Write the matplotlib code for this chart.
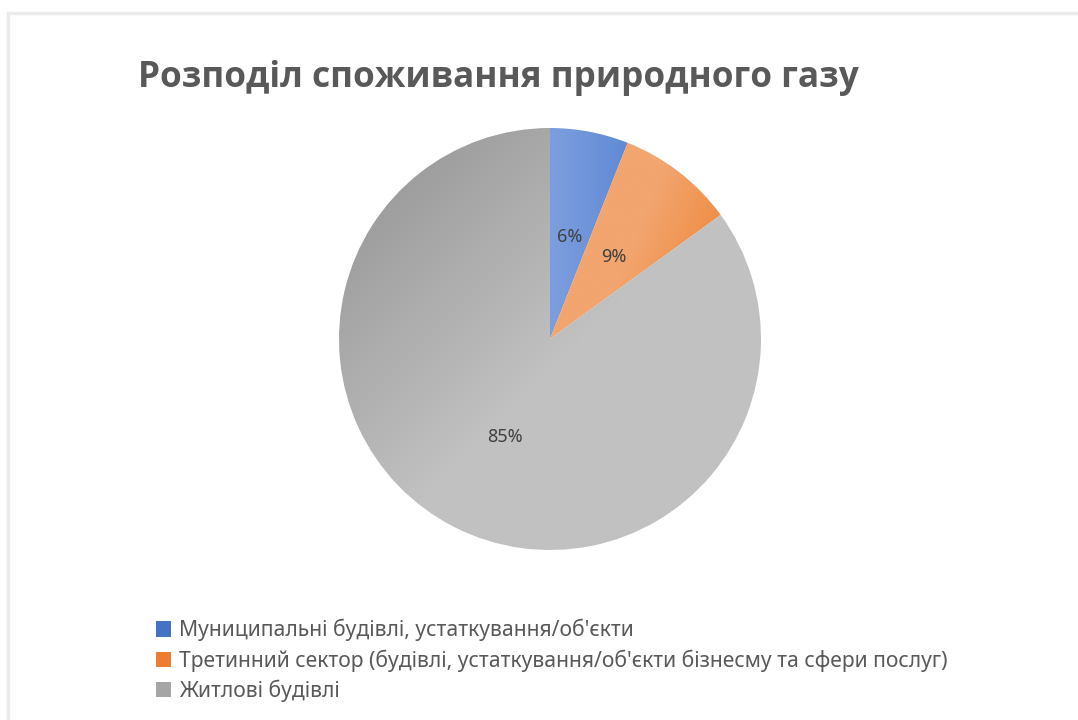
import numpy as np
import matplotlib
matplotlib.use("Agg")
import matplotlib.pyplot as plt
from matplotlib.patches import Patch, Rectangle
from matplotlib.colors import to_rgb

plt.rcParams['font.family'] = ['Noto Sans', 'DejaVu Sans']

title = "Розподіл споживання природного газу"
labels = [
    "Муниципальні будівлі, устаткування/об'єкти",
    "Третинний сектор (будівлі, устаткування/об'єкти бізнесму та сфери послуг)",
    "Житлові будівлі",
]
shares = [6, 9, 85]
base_colors = ["#4472C4", "#ED7D31", "#A5A5A5"]
# light / dark ends of each slice gradient
grad_colors = [("#7b9ddd", "#5f89d6"), ("#f2a56f", "#ef8d44"), ("#989898", "#c1c1c1")]

fig = plt.figure(figsize=(10.78, 7.2), dpi=100)

# chart area border (only top and left edges are visible)
fig.patches.append(Rectangle((8 / 1078, -0.1), 1.2, 1 - 13 / 720 + 0.1,
                             transform=fig.transFigure, fill=False,
                             edgecolor="#ebebeb", linewidth=2.5))

ax = fig.add_axes([(550 - 211) / 1078, (720 - 339 - 211) / 720, 422 / 1078, 422 / 720])
wedges, _, autotexts = ax.pie(shares, startangle=90, counterclock=False, radius=1,
                              autopct="%1.0f%%", pctdistance=0.49,
                              wedgeprops=dict(facecolor="none", edgecolor="none"),
                              textprops=dict(color="#404040", fontsize=13))

n = 400
xs = np.linspace(-1, 1, n)
X, Y = np.meshgrid(xs, xs)
ramps = [
    np.clip((X - 0.03) / 0.35, 0, 1),
    np.clip(((X - 0.45) + (0.6 - Y) * 0.4) / 0.4, 0, 1),
    np.clip(((X - Y) / np.sqrt(2) + 1.2) / 1.3, 0, 1),
]
for w, t, (c0, c1) in zip(wedges, ramps, grad_colors):
    a, b = np.array(to_rgb(c0)), np.array(to_rgb(c1))
    img = a[None, None, :] * (1 - t[..., None]) + b[None, None, :] * t[..., None]
    im = ax.imshow(img, extent=(-1, 1, -1, 1), origin="lower", zorder=0,
                   interpolation="bilinear")
    im.set_clip_path(w)

# place the large slice label a little further round
ang = np.deg2rad(-115)
autotexts[2].set_position((0.51 * np.cos(ang), 0.51 * np.sin(ang)))
for t in autotexts:
    t.set_zorder(5)

ax.set_xlim(-1, 1)
ax.set_ylim(-1, 1)
ax.set_aspect("equal")
ax.axis("off")

fig.text(138 / 1078, 1 - 78 / 720, title, fontsize=25.3, fontweight="bold",
         family=["Open Sans", "DejaVu Sans"],
         color="#595959", ha="left", va="center")

handles = [Patch(facecolor=c, edgecolor="none") for c in base_colors]
fig.legend(handles, labels, loc="upper left", bbox_to_anchor=(156 / 1078, 1 - 619 / 720),
           frameon=False, fontsize=15.2, handlelength=0.72, handleheight=0.72,
           handletextpad=0.38, labelspacing=0.38, borderpad=0, borderaxespad=0,
           labelcolor="#595959")

fig.savefig("out.png", dpi=100)
